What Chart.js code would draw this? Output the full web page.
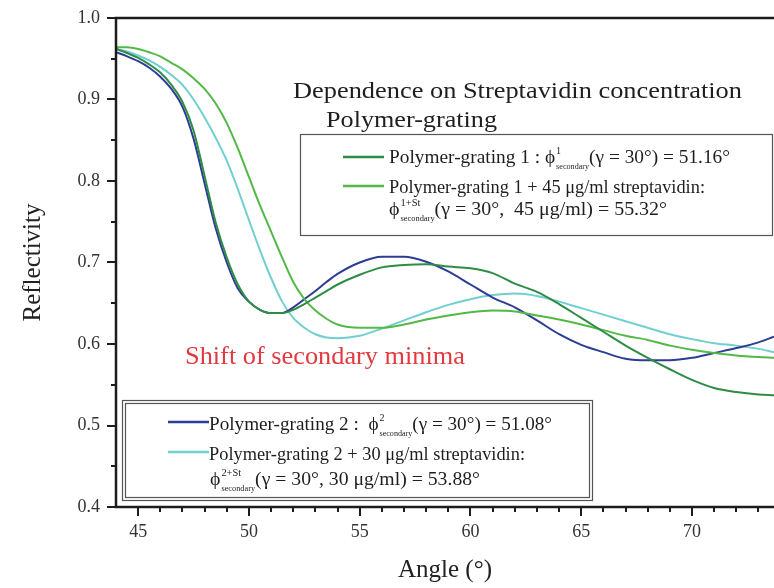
<!DOCTYPE html>
<html>
<head>
<meta charset="utf-8">
<script src="https://cdn.jsdelivr.net/npm/chart.js@4/dist/chart.umd.min.js"></script>
<style>
  html, body { margin: 0; padding: 0; background: #fff; }
  canvas { display: block; }
</style>
</head>
<body>
<canvas id="c" width="774" height="588"></canvas>
<script>
// Incidence angle (deg) shared by all reflectivity scans
const angles = [44, 44.5, 45, 45.5, 46, 46.5, 47, 47.5, 48, 48.5, 49, 49.5, 50, 50.5, 51, 51.5,
  52, 52.5, 53, 53.5, 54, 55, 56, 57, 58, 59, 60, 61, 62, 63, 64, 65, 66, 67, 68, 69, 70, 71,
  72, 73, 73.7];

// Polymer-grating 1 (bare)
const grating1 = [0.962, 0.957, 0.951, 0.943, 0.933, 0.918, 0.897, 0.862, 0.806, 0.749, 0.706,
  0.673, 0.652, 0.642, 0.638, 0.638, 0.642, 0.649, 0.657, 0.665, 0.673, 0.685, 0.694, 0.697,
  0.698, 0.695, 0.693, 0.687, 0.674, 0.664, 0.649, 0.632, 0.615, 0.598, 0.583, 0.569, 0.556,
  0.546, 0.541, 0.538, 0.537];

// Polymer-grating 1 + 45 µg/ml streptavidin
const grating1St = [0.964, 0.964, 0.962, 0.958, 0.953, 0.945, 0.937, 0.926, 0.913, 0.895, 0.871,
  0.840, 0.805, 0.770, 0.738, 0.706, 0.676, 0.655, 0.641, 0.631, 0.624, 0.620, 0.620, 0.624,
  0.630, 0.635, 0.639, 0.641, 0.640, 0.635, 0.630, 0.624, 0.617, 0.610, 0.605, 0.598, 0.593,
  0.589, 0.586, 0.584, 0.583];

// Polymer-grating 2 (bare)
const grating2 = [0.958, 0.953, 0.947, 0.939, 0.928, 0.913, 0.891, 0.852, 0.797, 0.742, 0.700,
  0.668, 0.652, 0.642, 0.638, 0.638, 0.645, 0.655, 0.665, 0.676, 0.686, 0.700, 0.707, 0.707,
  0.701, 0.689, 0.673, 0.657, 0.645, 0.629, 0.612, 0.599, 0.590, 0.582, 0.580, 0.580, 0.583,
  0.589, 0.595, 0.602, 0.609];

// Polymer-grating 2 + 30 µg/ml streptavidin
const grating2St = [0.962, 0.959, 0.954, 0.948, 0.940, 0.930, 0.918, 0.900, 0.878, 0.853, 0.825,
  0.790, 0.752, 0.715, 0.681, 0.652, 0.632, 0.620, 0.612, 0.608, 0.607, 0.610, 0.619, 0.629,
  0.639, 0.648, 0.655, 0.660, 0.662, 0.659, 0.652, 0.644, 0.636, 0.628, 0.620, 0.612, 0.606,
  0.601, 0.598, 0.594, 0.590];

const xTickValues = [45, 50, 55, 60, 65, 70];
const yTickValues = [0.4, 0.5, 0.6, 0.7, 0.8, 0.9, 1.0];

const COLORS = {
  g1: '#2f8c46',
  g1St: '#52b947',
  g2: '#2c3d95',
  g2St: '#72cfcf'
};

const SERIF = '"Liberation Serif", "DejaVu Serif", serif';

function toPoints(ys) {
  return angles.map((a, i) => ({ x: a, y: ys[i] }));
}

function lineSet(label, ys, color) {
  return {
    label,
    data: toPoints(ys),
    borderColor: color,
    backgroundColor: color,
    borderWidth: 2,
    pointRadius: 0,
    cubicInterpolationMode: 'monotone',
    fill: false
  };
}

// Text run with optional stacked super/subscripts, squeezed to a given width
function richText(ctx, x, y, parts, size, width, color) {
  const mainFont = size + 'px ' + SERIF;
  const supFont = Math.round(size * 0.52) + 'px ' + SERIF;
  const subFont = Math.round(size * 0.42) + 'px ' + SERIF;
  const widths = parts.map(p => {
    if (typeof p === 'string') {
      ctx.font = mainFont;
      return ctx.measureText(p).width;
    }
    ctx.font = supFont;
    const a = ctx.measureText(p.sup).width;
    ctx.font = subFont;
    const b = ctx.measureText(p.sub).width;
    return Math.max(a, b) + 1;
  });
  const total = widths.reduce((s, w) => s + w, 0);
  ctx.save();
  ctx.translate(x, y);
  if (width) ctx.scale(width / total, 1);
  ctx.fillStyle = color || '#1e1e1e';
  ctx.textBaseline = 'alphabetic';
  ctx.textAlign = 'left';
  let cx = 0;
  parts.forEach((p, i) => {
    if (typeof p === 'string') {
      ctx.font = mainFont;
      ctx.fillText(p, cx, 0);
    } else {
      ctx.font = supFont;
      ctx.fillText(p.sup, cx + 1, -size * 0.48);
      ctx.font = subFont;
      ctx.fillText(p.sub, cx + 1, size * 0.3);
    }
    cx += widths[i];
  });
  ctx.restore();
}

// Axis frame with outward major/minor ticks (left, bottom and top edges)
const framePlugin = {
  id: 'frame',
  afterDatasetsDraw(chart) {
    const { ctx, chartArea: a, scales: { x, y } } = chart;
    ctx.save();
    ctx.strokeStyle = '#1c1c1c';
    ctx.lineWidth = 2.5;
    ctx.beginPath();
    ctx.moveTo(a.right, a.top);
    ctx.lineTo(a.left, a.top);
    ctx.lineTo(a.left, a.bottom);
    ctx.lineTo(a.right, a.bottom);
    ctx.stroke();
    ctx.lineWidth = 2;
    ctx.beginPath();
    for (let v = 45; v <= 73; v++) {
      const px = Math.round(x.getPixelForValue(v));
      const len = v % 5 === 0 ? 9 : 5;
      ctx.moveTo(px, a.bottom);
      ctx.lineTo(px, a.bottom + len);
    }
    for (let k = 8; k <= 20; k++) {
      const v = k * 0.05;
      const py = Math.round(y.getPixelForValue(v));
      const len = k % 2 === 0 ? 9 : 5;
      ctx.moveTo(a.left, py);
      ctx.lineTo(a.left - len, py);
    }
    ctx.stroke();
    ctx.restore();
  }
};

// Heading, legend boxes and the red note
const notesPlugin = {
  id: 'notes',
  afterDraw(chart) {
    const ctx = chart.ctx;
    ctx.save();

    richText(ctx, 293, 98, ['Dependence on Streptavidin concentration'], 24, 449);
    richText(ctx, 326, 127, ['Polymer-grating'], 24, 171);

    // legend for grating 1
    ctx.fillStyle = '#fff';
    ctx.fillRect(300, 134, 473, 102);
    ctx.strokeStyle = '#555';
    ctx.lineWidth = 1.2;
    ctx.strokeRect(300.5, 134.5, 472, 101);
    ctx.lineWidth = 2.5;
    ctx.strokeStyle = COLORS.g1;
    ctx.beginPath(); ctx.moveTo(343, 157); ctx.lineTo(384, 157); ctx.stroke();
    ctx.strokeStyle = COLORS.g1St;
    ctx.beginPath(); ctx.moveTo(343, 186); ctx.lineTo(384, 186); ctx.stroke();
    richText(ctx, 389, 163, ['Polymer-grating 1 : ', 'ϕ', { sup: '1', sub: 'secondary' }, '(γ = 30°) = 51.16°'], 19, 341);
    richText(ctx, 389, 193, ['Polymer-grating 1 + 45 μg/ml streptavidin:'], 19, 316);
    richText(ctx, 389, 215, ['ϕ', { sup: '1+St', sub: 'secondary' }, '(γ = 30°,  45 μg/ml) = 55.32°'], 19, 278);

    // legend for grating 2 (double frame)
    ctx.fillStyle = '#fff';
    ctx.fillRect(122, 400, 471, 101);
    ctx.strokeStyle = '#555';
    ctx.lineWidth = 1.2;
    ctx.strokeRect(122.5, 400.5, 470, 100);
    ctx.strokeRect(125.5, 403.5, 464, 94);
    ctx.lineWidth = 2.5;
    ctx.strokeStyle = COLORS.g2;
    ctx.beginPath(); ctx.moveTo(168, 422); ctx.lineTo(209, 422); ctx.stroke();
    ctx.strokeStyle = COLORS.g2St;
    ctx.beginPath(); ctx.moveTo(168, 452); ctx.lineTo(209, 452); ctx.stroke();
    richText(ctx, 209, 430, ['Polymer-grating 2 :  ', 'ϕ', { sup: '2', sub: 'secondary' }, '(γ = 30°) = 51.08°'], 19, 343);
    richText(ctx, 209, 460, ['Polymer-grating 2 + 30 μg/ml streptavidin:'], 19, 316);
    richText(ctx, 210, 485, ['ϕ', { sup: '2+St', sub: 'secondary' }, '(γ = 30°, 30 μg/ml) = 53.88°'], 19, 270);

    richText(ctx, 185, 364, ['Shift of secondary minima'], 25, 280, '#e2393e');

    ctx.restore();
  }
};

new Chart(document.getElementById('c'), {
  type: 'line',
  data: {
    datasets: [
      lineSet('Polymer-grating 1', grating1, COLORS.g1),
      lineSet('Polymer-grating 1 + 45 μg/ml streptavidin', grating1St, COLORS.g1St),
      lineSet('Polymer-grating 2', grating2, COLORS.g2),
      lineSet('Polymer-grating 2 + 30 μg/ml streptavidin', grating2St, COLORS.g2St)
    ]
  },
  options: {
    responsive: false,
    animation: false,
    layout: { padding: { top: 18, right: 0, bottom: 0, left: 0 } },
    plugins: {
      legend: { display: false },
      tooltip: { enabled: false }
    },
    scales: {
      x: {
        type: 'linear',
        min: 44,
        max: 73.7,
        grid: { display: false, drawTicks: false },
        border: { display: false },
        afterBuildTicks: s => { s.ticks = xTickValues.map(v => ({ value: v })); },
        afterFit: s => {
          s.height = 81;
          s.paddingLeft = 0; s.paddingRight = 0; s.paddingTop = 0; s.paddingBottom = 0;
        },
        ticks: {
          padding: 14,
          color: '#333',
          font: { family: SERIF, size: 18 },
          callback: v => String(v)
        },
        title: {
          display: true,
          text: 'Angle (°)',
          color: '#222',
          font: { family: SERIF, size: 25 },
          padding: { top: 0, bottom: 3 }
        }
      },
      y: {
        min: 0.4,
        max: 1.0,
        grid: { display: false, drawTicks: false },
        border: { display: false },
        afterBuildTicks: s => { s.ticks = yTickValues.map(v => ({ value: v })); },
        afterFit: s => {
          s.width = 116;
          s.paddingLeft = 0; s.paddingRight = 0; s.paddingTop = 0; s.paddingBottom = 0;
        },
        ticks: {
          padding: 16,
          color: '#333',
          font: { family: SERIF, size: 18 },
          callback: v => Number(v).toFixed(1)
        },
        title: {
          display: true,
          text: 'Reflectivity',
          color: '#222',
          font: { family: SERIF, size: 25 },
          padding: { top: 18, bottom: 0 }
        }
      }
    }
  },
  plugins: [framePlugin, notesPlugin]
});
</script>
</body>
</html>
